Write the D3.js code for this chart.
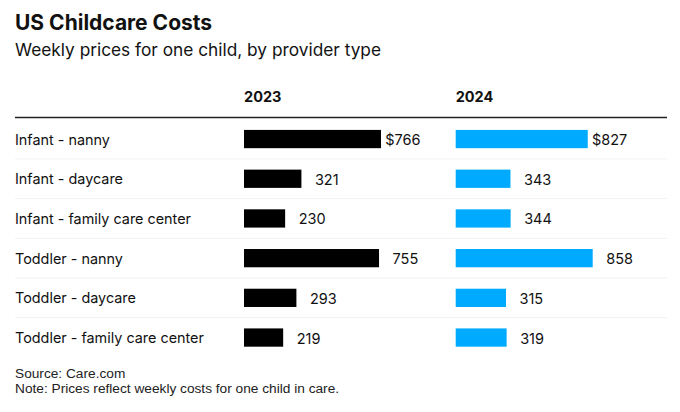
<!DOCTYPE html>
<html><head><meta charset="utf-8">
<script src="https://cdn.jsdelivr.net/npm/d3@7"></script>
<style>
html,body{margin:0;padding:0;background:#fff;}
text{font-family:"Inter","Liberation Sans",Arial,sans-serif;}
text.foot{font-family:"Liberation Sans",Arial,sans-serif;}
</style></head>
<body><svg id="c" width="680" height="412"></svg>
<script>
const categories = ["Infant - nanny","Infant - daycare","Infant - family care center","Toddler - nanny","Toddler - daycare","Toddler - family care center"];
const years = ["2023","2024"];
const values2023 = [766,321,230,755,293,219];
const values2024 = [827,343,344,858,315,319];
const colors = ["#000000","#00aaff"];

const svg = d3.select("#c");
const ink = "#111";

svg.append("text").attr("x",15).attr("y",29.5).attr("font-size",21).attr("font-weight",700).attr("fill",ink).text("US Childcare Costs");
svg.append("text").attr("x",15).attr("y",56).attr("font-size",17.3).attr("fill",ink).text("Weekly prices for one child, by provider type");

const y = d3.scaleBand().domain(categories).range([119.2,357.4]).paddingInner(0.54).paddingOuter(0.27);
const step = y.step();

svg.append("g").selectAll("line").data(categories.slice(1)).join("line")
  .attr("x1",15).attr("x2",667)
  .attr("y1",d=>y(d)-step*0.27).attr("y2",d=>y(d)-step*0.27)
  .attr("stroke","#f2f2f2").attr("stroke-width",1);

svg.append("line").attr("x1",15).attr("x2",667).attr("y1",117.5).attr("y2",117.5).attr("stroke","#222").attr("stroke-width",1.5);

svg.append("g").selectAll("text").data(categories).join("text")
  .attr("x",15).attr("y",d=>y(d)+y.bandwidth()/2+5.5)
  .attr("font-size",14.4).attr("fill",ink).text(d=>d);

const panels = [
  {year:years[0], vals:values2023, x0:244, color:colors[0]},
  {year:years[1], vals:values2024, x0:455.7, color:colors[1]}
];
panels.forEach(p=>{
  const x = d3.scaleLinear().domain([0,d3.max(p.vals)]).range([p.x0,p.x0+137]);
  svg.append("text").attr("x",p.x0).attr("y",102.3).attr("font-size",14.5).attr("font-weight",700).attr("fill",ink).text(p.year);
  const g = svg.append("g");
  g.selectAll("rect").data(p.vals).join("rect")
    .attr("x",x(0)).attr("y",(d,i)=>y(categories[i]))
    .attr("width",d=>x(d)-x(0)).attr("height",y.bandwidth())
    .attr("fill",p.color);
  g.selectAll("text").data(p.vals).join("text")
    .attr("x",d=>x(d)+13.5).attr("y",(d,i)=>y(categories[i])+y.bandwidth()/2+6)
    .attr("font-size",14.5).attr("fill",ink)
    .text((d,i)=> i===0 ? "$"+d : d)
    .each(function(d,i){
      if(i===0){
        const t=d3.select(this);
        const tmp=svg.append("text").attr("font-size",14.5).text("$");
        const w=tmp.node().getComputedTextLength(); tmp.remove();
        t.attr("x",x(d)+13.5-w);
      }
    });
});

svg.append("text").attr("class","foot").attr("x",15).attr("y",377.7).attr("font-size",13.7).attr("fill","#222").text("Source: Care.com");
svg.append("text").attr("class","foot").attr("x",15).attr("y",392.7).attr("font-size",13.7).attr("fill","#222").text("Note: Prices reflect weekly costs for one child in care.");
</script></body></html>
